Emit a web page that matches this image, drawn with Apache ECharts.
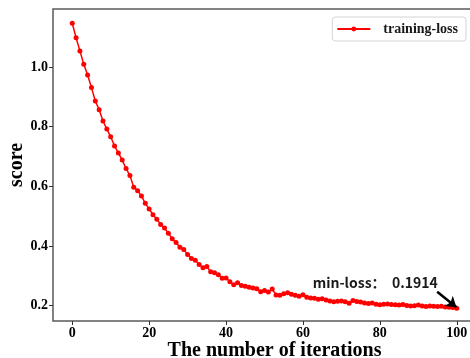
<!DOCTYPE html>
<html>
<head>
<meta charset="utf-8">
<script src="https://cdn.jsdelivr.net/npm/echarts@6/dist/echarts.min.js"></script>
<style>html,body{margin:0;padding:0;background:#fff}#c{width:470px;height:358px}</style>
</head>
<body>
<div id="c"></div>
<script>
const iterations = [];
for (let i = 0; i <= 100; i++) iterations.push(i);
const trainingLoss = [
  1.147, 1.098, 1.054, 1.009, 0.973, 0.931, 0.886, 0.857, 0.819, 0.792,
  0.766, 0.735, 0.712, 0.688, 0.660, 0.636, 0.597, 0.585, 0.568, 0.543,
  0.524, 0.505, 0.490, 0.472, 0.460, 0.443, 0.424, 0.412, 0.396, 0.388,
  0.372, 0.358, 0.352, 0.338, 0.327, 0.331, 0.314, 0.310, 0.304, 0.292,
  0.293, 0.280, 0.270, 0.277, 0.268, 0.265, 0.262, 0.259, 0.257, 0.247,
  0.251, 0.246, 0.256, 0.236, 0.235, 0.240, 0.243, 0.238, 0.235, 0.232,
  0.237, 0.228, 0.226, 0.225, 0.222, 0.223, 0.219, 0.216, 0.213, 0.215,
  0.216, 0.213, 0.208, 0.217, 0.214, 0.212, 0.209, 0.207, 0.209, 0.205,
  0.203, 0.205, 0.206, 0.204, 0.203, 0.202, 0.204, 0.201, 0.199, 0.200,
  0.202, 0.199, 0.197, 0.199, 0.198, 0.197, 0.198, 0.196, 0.195, 0.194,
  0.1914
];
const xTicks = [0, 20, 40, 60, 80, 100];
const yTicks = [0.2, 0.4, 0.6, 0.8, 1.0];
const seriesName = 'training-loss';
const minLossText = 'min-loss：  0.1914';
const annotationPos = [78.8, 0.277];
const arrowFrom = [94.9, 0.247];
const arrowTo = [99.9, 0.195];

const serif = '"Liberation Serif", "Times New Roman", serif';
const chart = echarts.init(document.getElementById('c'), null, {renderer: 'canvas'});
chart.setOption({
  animation: false,
  grid: {
    left: 53, top: 9, right: -6, bottom: 37,
    outerBoundsMode: 'none', containLabel: false,
    show: true, borderColor: '#5a5a5a', borderWidth: 1.5, backgroundColor: 'transparent'
  },
  legend: {
    right: 4, top: 17,
    backgroundColor: '#fff', borderColor: '#d4d4d4', borderWidth: 1, borderRadius: 3,
    padding: [5, 8, 5, 4],
    itemWidth: 33, itemHeight: 6,
    textStyle: {fontFamily: serif, fontWeight: 'bold', fontSize: 14, color: '#1a1a1a', padding: [0, 0, 0, 8]},
    data: [seriesName]
  },
  xAxis: {
    type: 'value', min: -5, max: 105,
    name: 'The number of iterations', nameLocation: 'middle', nameGap: 20, nameMoveOverlap: false,
    nameTextStyle: {fontFamily: serif, fontWeight: 'bold', fontSize: 20, color: '#000', padding: [0, 0, 0, 20]},
    axisLine: {show: false, onZero: false},
    axisTick: {show: true, length: 4, lineStyle: {color: '#333'}, customValues: xTicks},
    axisLabel: {customValues: xTicks, fontFamily: serif, fontWeight: 'bold', fontSize: 14, color: '#000', margin: 5},
    splitLine: {show: false}
  },
  yAxis: {
    type: 'value', min: 0.1487, max: 1.1944,
    name: 'score', nameLocation: 'middle', nameGap: 26, nameRotate: 90, nameMoveOverlap: false,
    nameTextStyle: {fontFamily: serif, fontWeight: 'bold', fontSize: 20, color: '#000'},
    axisLine: {show: false, onZero: false},
    axisTick: {show: true, length: 4, lineStyle: {color: '#333'}, customValues: yTicks},
    axisLabel: {customValues: yTicks, fontFamily: serif, fontWeight: 'bold', fontSize: 14, color: '#000', margin: 5,
      formatter: v => v.toFixed(1)},
    splitLine: {show: false}
  },
  series: [{
    name: seriesName,
    type: 'line',
    data: iterations.map((x, i) => [x, trainingLoss[i]]),
    symbol: 'circle', symbolSize: 5,
    itemStyle: {color: '#ff0000'},
    lineStyle: {color: '#ff0000', width: 1.5},
    markPoint: {
      silent: true,
      symbol: 'circle', symbolSize: 0,
      data: [{coord: annotationPos, value: minLossText}],
      label: {show: true, position: 'inside', formatter: minLossText,
        fontFamily: '"Noto Sans CJK SC", "Noto Sans", sans-serif', fontSize: 14, fontWeight: 'bold', color: '#1a1a1a'}
    },
    markLine: {
      silent: true,
      symbol: ['none', 'arrow'], symbolSize: 10,
      label: {show: false},
      lineStyle: {color: '#000', width: 2.5, type: 'solid'},
      data: [[{coord: arrowFrom}, {coord: arrowTo}]]
    }
  }]
});
</script>
</body>
</html>
